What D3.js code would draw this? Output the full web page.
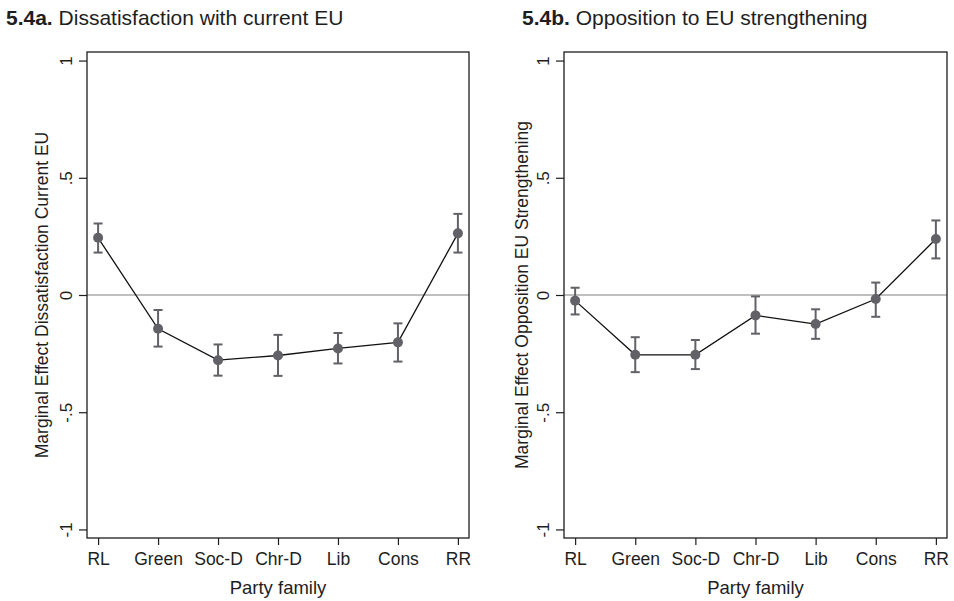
<!DOCTYPE html>
<html>
<head>
<meta charset="utf-8">
<script src="https://cdn.jsdelivr.net/npm/d3@7"></script>
<style>
  html, body { margin: 0; padding: 0; background: #fff; }
  svg { display: block; font-family: "Liberation Sans", Arial, Helvetica, sans-serif; }
</style>
</head>
<body>
<svg id="chart" width="954" height="601"></svg>
<script>
// Party families on the x axis
const categories = ["RL", "Green", "Soc-D", "Chr-D", "Lib", "Cons", "RR"];

// Panel a: marginal effect of dissatisfaction with the current EU
const dissatEst = [0.244, -0.144, -0.278, -0.258, -0.228, -0.202, 0.263];
const dissatLo  = [0.181, -0.220, -0.344, -0.345, -0.292, -0.284, 0.181];
const dissatHi  = [0.305, -0.064, -0.211, -0.170, -0.162, -0.121, 0.346];

// Panel b: marginal effect of opposition to EU strengthening
const oppEst = [-0.024, -0.255, -0.255, -0.087, -0.124, -0.017, 0.239];
const oppLo  = [-0.083, -0.329, -0.316, -0.165, -0.187, -0.093, 0.156];
const oppHi  = [ 0.031, -0.180, -0.192, -0.006, -0.061,  0.053, 0.318];

// Y axis ticks and their labels
const yTicks = [-1, -0.5, 0, 0.5, 1];
const yTickLabels = ["-1", "-.5", "0", ".5", "1"];

const svg = d3.select("#chart");
const ink = "#1e1e1e";

const panels = [
  { boldTitle: "5.4a.", title: " Dissatisfaction with current EU", titleX: 6,
    yTitle: "Marginal Effect Dissatisfaction Current EU",
    x0: 87, x1: 469, yTitleX: 48,
    est: dissatEst, lo: dissatLo, hi: dissatHi },
  { boldTitle: "5.4b.", title: " Opposition to EU strengthening", titleX: 522,
    yTitle: "Marginal Effect Opposition EU Strengthening",
    x0: 564, x1: 947, yTitleX: 528,
    est: oppEst, lo: oppLo, hi: oppHi }
];

const plotTop = 52, plotBottom = 538;
const y = d3.scaleLinear().domain([-1.0365, 1.0365]).range([plotBottom, plotTop]);
const markColor = "#616167";

panels.forEach(p => {
  const x = d3.scalePoint().domain(categories).range([p.x0, p.x1]).padding(0.185);
  const g = svg.append("g");

  // Panel title
  const t = g.append("text").attr("x", p.titleX).attr("y", 25)
    .attr("font-size", 21).attr("fill", ink);
  t.append("tspan").attr("font-weight", "bold").text(p.boldTitle);
  t.append("tspan").text(p.title);

  // Zero reference line
  g.append("line")
    .attr("x1", p.x0).attr("x2", p.x1)
    .attr("y1", y(0)).attr("y2", y(0))
    .attr("stroke", "#aaaaaa").attr("stroke-width", 1.5);

  // Y axis
  const yAxis = d3.axisLeft(y).tickValues(yTicks)
    .tickFormat((d, i) => yTickLabels[i]).tickSize(8).tickPadding(0);
  const ya = g.append("g").attr("transform", `translate(${p.x0},0)`).call(yAxis);
  ya.select(".domain").remove();
  ya.selectAll(".tick line").attr("stroke", ink).attr("stroke-width", 1.2);
  ya.selectAll(".tick text")
    .attr("font-size", 17).attr("fill", ink)
    .attr("font-family", "Liberation Sans, Arial, sans-serif")
    .attr("text-anchor", "middle")
    .attr("x", 0).attr("y", 0).attr("dy", 0)
    .attr("transform", "translate(-15.5,0) rotate(-90)");

  // X axis
  const xAxis = d3.axisBottom(x).tickSize(7).tickPadding(0);
  const xa = g.append("g").attr("transform", `translate(0,${plotBottom})`).call(xAxis);
  xa.select(".domain").remove();
  xa.selectAll(".tick line").attr("stroke", ink).attr("stroke-width", 1.2);
  xa.selectAll(".tick text")
    .attr("font-size", 17.5).attr("fill", ink)
    .attr("font-family", "Liberation Sans, Arial, sans-serif")
    .attr("y", 27).attr("dy", 0);

  // Plot frame
  g.append("rect")
    .attr("x", p.x0).attr("y", plotTop)
    .attr("width", p.x1 - p.x0).attr("height", plotBottom - plotTop)
    .attr("fill", "none").attr("stroke", ink).attr("stroke-width", 1.3);

  // Axis titles
  g.append("text")
    .attr("transform", `translate(${p.yTitleX},${(plotTop + plotBottom) / 2}) rotate(-90)`)
    .attr("text-anchor", "middle")
    .attr("font-size", 17.5).attr("fill", ink)
    .text(p.yTitle);
  g.append("text")
    .attr("x", (p.x0 + p.x1) / 2).attr("y", 594)
    .attr("text-anchor", "middle")
    .attr("font-size", 18.5).attr("fill", ink)
    .text("Party family");

  const rows = categories.map((c, i) => ({ c, est: p.est[i], lo: p.lo[i], hi: p.hi[i] }));

  // Confidence intervals
  const ci = g.append("g").attr("stroke", markColor).attr("stroke-width", 2);
  ci.selectAll("line.v").data(rows).join("line").attr("class", "v")
    .attr("x1", d => x(d.c)).attr("x2", d => x(d.c))
    .attr("y1", d => y(d.lo)).attr("y2", d => y(d.hi));
  ci.selectAll("line.hi").data(rows).join("line").attr("class", "hi")
    .attr("x1", d => x(d.c) - 4.5).attr("x2", d => x(d.c) + 4.5)
    .attr("y1", d => y(d.hi)).attr("y2", d => y(d.hi));
  ci.selectAll("line.lo").data(rows).join("line").attr("class", "lo")
    .attr("x1", d => x(d.c) - 4.5).attr("x2", d => x(d.c) + 4.5)
    .attr("y1", d => y(d.lo)).attr("y2", d => y(d.lo));

  // Connecting line
  g.append("path").datum(rows)
    .attr("fill", "none").attr("stroke", "#111").attr("stroke-width", 1.3)
    .attr("d", d3.line().x(d => x(d.c)).y(d => y(d.est)));

  // Point estimates
  g.selectAll("circle").data(rows).join("circle")
    .attr("cx", d => x(d.c)).attr("cy", d => y(d.est))
    .attr("r", 5).attr("fill", markColor);
});
</script>
</body>
</html>
